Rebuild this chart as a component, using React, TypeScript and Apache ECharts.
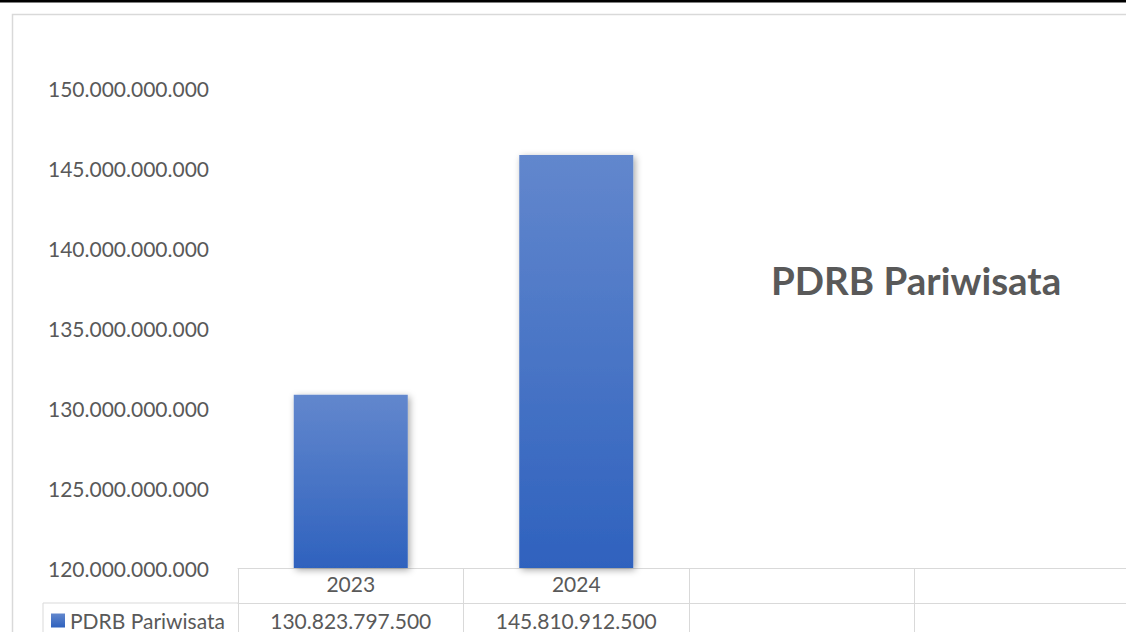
import React, { useEffect, useRef } from "react";
import * as echarts from "echarts";

const categories = ["2023", "2024", "", ""];
const seriesName = "PDRB Pariwisata";
const values = [130823797500, 145810912500];
const yMin = 120000000000;
const yMax = 150000000000;
const yInterval = 5000000000;
const chartTitle = "PDRB Pariwisata";

const fmt = (v: number) =>
  Math.round(v)
    .toString()
    .replace(/\B(?=(\d{3})+(?!\d))/g, ".");

const FONT = "Lato, 'Open Sans', sans-serif";
const TXT = "#595959";
const GRID = "#d9d9d9";
const W = 1160;
const H = 632;

export default function App() {
  const ref = useRef<HTMLDivElement>(null);
  useEffect(() => {
    if (!ref.current) return;
    const chart = echarts.init(ref.current, undefined, { renderer: "svg" });
    const tableValues = categories.map((_, i) =>
      values[i] != null ? fmt(values[i]) : ""
    );
    chart.setOption({
      animation: false,
      backgroundColor: "#ffffff",
      textStyle: { fontFamily: FONT },
      title: {
        text: chartTitle,
        left: 766,
        top: 255,
        textStyle: { fontFamily: FONT, fontSize: 38.5, fontWeight: "bold", color: TXT },
      },
      legend: {
        data: [seriesName],
        left: 46,
        top: 605,
        icon: "rect",
        itemWidth: 14,
        itemHeight: 14,
        itemGap: 8,
        textStyle: { fontFamily: FONT, fontSize: 21, color: TXT, padding: [0, 0, 0, 0] },
      },
      grid: { left: 238, top: 88, right: W - 1140, height: 480 },
      xAxis: [
        {
          type: "category",
          data: categories,
          boundaryGap: true,
          axisLine: { show: true, lineStyle: { color: GRID, width: 1 } },
          axisTick: { show: true, length: 80, lineStyle: { color: GRID, width: 1 }, alignWithLabel: false },
          axisLabel: { color: TXT, fontSize: 21, fontFamily: FONT, margin: 5, interval: 0 },
          splitLine: { show: false },
        },
        {
          type: "category",
          data: tableValues,
          position: "bottom",
          offset: 35,
          boundaryGap: true,
          axisLine: { show: true, lineStyle: { color: GRID, width: 1 } },
          axisTick: { show: false },
          axisLabel: { color: TXT, fontSize: 21, fontFamily: FONT, margin: 7, interval: 0 },
          splitLine: { show: false },
        },
      ],
      yAxis: {
        type: "value",
        min: yMin,
        max: yMax,
        interval: yInterval,
        axisLine: { show: false },
        axisTick: { show: false },
        splitLine: { show: false },
        axisLabel: {
          color: TXT,
          fontSize: 21,
          fontFamily: FONT,
          margin: 29,
          formatter: (v: number) => fmt(v),
        },
      },
      series: [
        {
          name: seriesName,
          type: "bar",
          xAxisIndex: 0,
          data: values,
          barWidth: 114,
          itemStyle: {
            color: new echarts.graphic.LinearGradient(0, 0, 0, 1, [
              { offset: 0, color: "#6287cd" },
              { offset: 1, color: "#2f62be" },
            ]),
            shadowBlur: 7,
            shadowColor: "rgba(0,0,0,0.35)",
            shadowOffsetX: 2,
            shadowOffsetY: 2,
          },
        },
      ],
      graphic: [
        {
          type: "rect",
          z: 0,
          shape: { x: 12.5, y: 14.5, width: 1300, height: 800 },
          style: { fill: "none", stroke: GRID, lineWidth: 1.5 },
          silent: true,
        },
        {
          type: "rect",
          z: 10,
          shape: { x: 0, y: 0, width: W, height: 2.5 },
          style: { fill: "#000000" },
          silent: true,
        },
        {
          type: "line",
          z: 10,
          shape: { x1: 43, y1: 603, x2: 238, y2: 603 },
          style: { stroke: GRID, lineWidth: 1 },
          silent: true,
        },
        {
          type: "line",
          z: 10,
          shape: { x1: 43, y1: 603, x2: 43, y2: 650 },
          style: { stroke: GRID, lineWidth: 1 },
          silent: true,
        },
      ],
    });
    return () => chart.dispose();
  }, []);
  return (
    <div
      ref={ref}
      style={{ position: "fixed", left: 0, top: 0, width: W, height: H }}
    />
  );
}
